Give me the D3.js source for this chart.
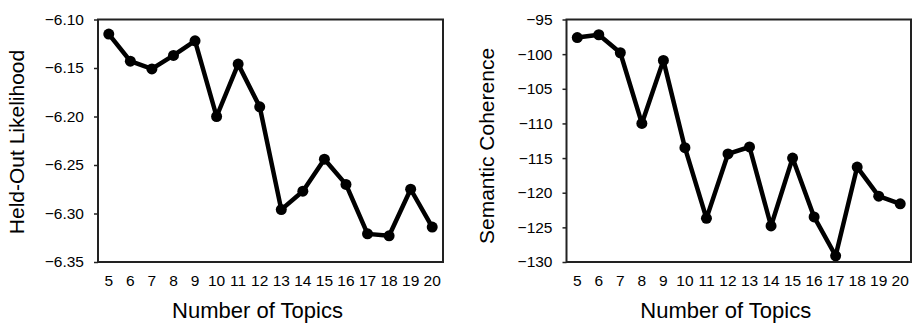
<!DOCTYPE html>
<html><head><meta charset="utf-8">
<script src="https://cdn.jsdelivr.net/npm/d3@7"></script>
<style>body{margin:0;background:#fff}svg{display:block}text{font-family:"Liberation Sans",Arial,sans-serif;fill:#000}</style>
</head><body><svg id="c" width="912" height="323"></svg>
<script>
const topics = [5,6,7,8,9,10,11,12,13,14,15,16,17,18,19,20];
const likelihood = [-6.115,-6.143,-6.151,-6.137,-6.122,-6.200,-6.146,-6.190,-6.296,-6.277,-6.244,-6.270,-6.321,-6.323,-6.275,-6.314];
const coherence = [-97.6,-97.2,-99.8,-110.0,-100.9,-113.5,-123.7,-114.4,-113.4,-124.8,-115.0,-123.5,-129.1,-116.3,-120.5,-121.6];
const likeTicks = [-6.10,-6.15,-6.20,-6.25,-6.30,-6.35];
const cohTicks = [-95,-100,-105,-110,-115,-120,-125,-130];

const svg = d3.select("#c");
function panel(cfg){
  const g = svg.append("g");
  const x = d3.scaleBand().domain(topics).range([cfg.x0, cfg.x1]);
  const y = d3.scaleLinear().domain(cfg.domain).range([262, 19.5]);
  const yAxis = g.append("g").attr("transform",`translate(${cfg.x0},0)`)
    .call(d3.axisLeft(y).tickValues(cfg.ticks).tickFormat(cfg.fmt).tickSize(4).tickSizeOuter(0));
  yAxis.select(".domain").remove();
  yAxis.selectAll("line").attr("stroke","#222").attr("stroke-width",1.5);
  yAxis.selectAll("text").attr("font-size",15.5).attr("x",-14).style("font-family","Liberation Sans, Arial, sans-serif");
  const xAxis = g.append("g").attr("transform","translate(0,262)")
    .call(d3.axisBottom(x).tickSize(0).tickPadding(13));
  xAxis.select(".domain").remove();
  xAxis.selectAll("text").attr("font-size",15.5).style("font-family","Liberation Sans, Arial, sans-serif");
  g.append("rect").attr("x",cfg.x0).attr("y",19.5).attr("width",cfg.x1-cfg.x0).attr("height",262-19.5)
    .attr("fill","none").attr("stroke","#222").attr("stroke-width",2);
  const line = d3.line().x((d,i)=>x(topics[i])+x.bandwidth()/2).y(d=>y(d));
  g.append("path").datum(cfg.data).attr("d",line).attr("fill","none").attr("stroke","#000").attr("stroke-width",4.5).attr("stroke-linejoin","round");
  g.selectAll("circle.p").data(cfg.data).enter().append("circle")
    .attr("cx",(d,i)=>x(topics[i])+x.bandwidth()/2).attr("cy",d=>y(d)).attr("r",5.5).attr("fill","#000");
  g.append("text").attr("x",(cfg.x0+cfg.x1)/2 - 13).attr("y",318).attr("text-anchor","middle").attr("font-size",22).text("Number of Topics");
  g.append("text").attr("transform",`translate(${cfg.titleX},${cfg.titleY}) rotate(-90)`).attr("text-anchor","middle").attr("font-size",21).text(cfg.title);
}
panel({x0:98, x1:443, domain:[-6.35,-6.10], ticks:likeTicks, fmt:d3.format(".2f"), data:likelihood, title:"Held-Out Likelihood", titleX:24, titleY:142});
panel({x0:566.5, x1:911, domain:[-130,-95], ticks:cohTicks, fmt:d3.format("d"), data:coherence, title:"Semantic Coherence", titleX:494, titleY:146});
</script></body></html>
